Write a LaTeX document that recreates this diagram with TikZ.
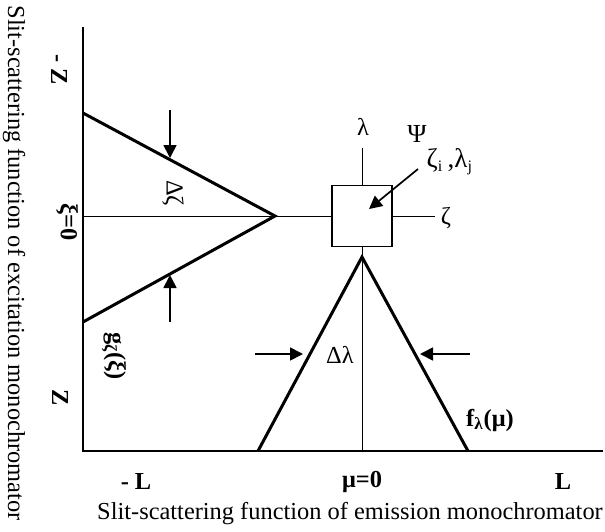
\documentclass[tikz,border=0pt]{standalone}
\usepackage{fontspec}
\setmainfont{Liberation Serif}
\usetikzlibrary{arrows.meta}

\begin{document}
\begin{tikzpicture}[x=0.5pt,y=-0.5pt,
  every node/.style={font=\fontsize{12.2}{14}\selectfont,inner sep=0pt},
  thickline/.style={line width=1.5pt},
  thinline/.style={line width=0.5pt},
  axisline/.style={line width=1.15pt},
  push/.style={line width=0.85pt,-{Triangle[length=6.5pt,width=6.5pt]}}]
\useasboundingbox (0,0) rectangle (605,531);
% axes
\draw[axisline] (83,27) -- (83,451) -- (603,451);
% cell of the scan
\node[draw,line width=0.6pt,minimum width=30pt,minimum height=30.5pt] (cell) at (362,216) {};
\draw[thinline] (83,216) -- (cell.west);
\draw[thinline] (cell.east) -- (435,216);
\draw[thinline] (362,148) -- (cell.north);
\draw[thinline] (cell.south) -- (362,451);
% slit functions
\draw[thickline] (83,113) -- (275,216) -- (83,322);
\draw[thickline] (258,451) -- (362,257) -- (468,451);
% width arrows
\draw[push] (170,110) -- (170,158);
\draw[push] (170,322) -- (170,275);
\draw[push] (255,354) -- (303,354);
\draw[push] (470,354) -- (420,354);
% labels
\node (lam) at (363,127) {λ};
\node (zeta) at (446,218) {ζ};
\node[anchor=base west] (psi) at (407,142) {\fontsize{13}{14}\selectfont Ψ\raisebox{-12.5pt}{\fontsize{13.5}{14}\selectfont ζ\textsubscript{\fontsize{8}{8}\selectfont i}\,,λ\textsubscript{\fontsize{8}{8}\selectfont j}}};
\coordinate (psitail) at (418,169);
\coordinate (psitip) at (369,209);
\draw[push] (psitail) -- (psitip);
\node (dlam) at (340,355) {Δλ};
\node[rotate=-90] (dzeta) at (173,193) {Δζ};
\node (flam) at (490,420) {\textbf{f\textsubscript{λ}(μ)}};
\node[rotate=-90] (gzeta) at (114,356) {\textbf{g\textsubscript{ζ}(ξ)}};
\node[rotate=-90] (zmin) at (59,70) {\textbf{- Z}};
\node[rotate=-90] (xi0) at (67,222) {\textbf{ξ=0}};
\node[rotate=-90] (zmax) at (60,398) {\textbf{Z}};
\node (lmin) at (136,482) {\textbf{- L}};
\node (mu0) at (362,482) {\textbf{μ=0}};
\node (lmax) at (563,482) {\textbf{L}};
\node (emlabel) at (350,514) {Slit-scattering function of emission monochromator};
\node[rotate=-90] (exlabel) at (14,263) {Slit-scattering function of excitation monochromator};
\end{tikzpicture}
\end{document}
